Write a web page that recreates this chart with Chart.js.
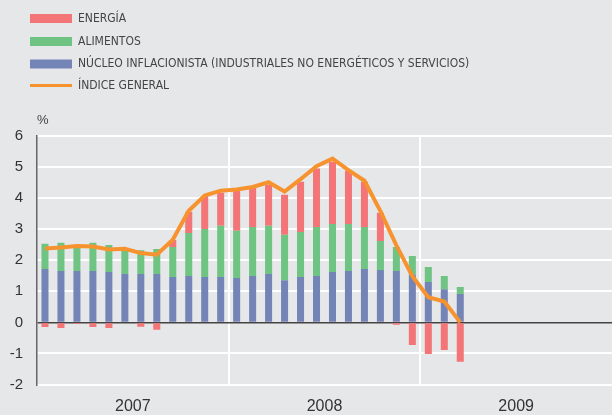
<!DOCTYPE html>
<html>
<head>
<meta charset="utf-8">
<script src="https://cdn.jsdelivr.net/npm/chart.js@4"></script>
<style>
  body { margin: 0; background: #e6e7e9; }
  #wrap { width: 612px; height: 415px; }
</style>
</head>
<body>
<div id="wrap"><canvas id="ipc" width="612" height="415"></canvas></div>
<script>
// months Jan 2007 .. Dec 2009 (data up to Mar 2009)
const years = ["2007", "2008", "2009"];
const months = [];
years.forEach(y => { for (let m = 1; m <= 12; m++) months.push(y + "-" + String(m).padStart(2, "0")); });

// contributions to the year-on-year rate, percentage points
const nucleo = [1.72, 1.65, 1.65, 1.65, 1.62, 1.56, 1.56, 1.56, 1.46, 1.49, 1.46, 1.46,
                1.43, 1.49, 1.56, 1.36, 1.46, 1.49, 1.62, 1.65, 1.72, 1.69, 1.65, 1.53,
                1.30, 1.07, 0.91];
const alimentos = [0.81, 0.91, 0.78, 0.91, 0.87, 0.80, 0.76, 0.80, 0.97, 1.39, 1.55, 1.65,
                   1.52, 1.58, 1.55, 1.46, 1.45, 1.58, 1.55, 1.52, 1.35, 0.93, 0.78, 0.61,
                   0.48, 0.42, 0.23];
const energia = [-0.15, -0.18, -0.05, -0.15, -0.18, -0.03, -0.14, -0.24, 0.22, 0.68, 1.06, 1.06,
                 1.29, 1.26, 1.32, 1.29, 1.62, 1.88, 2.00, 1.71, 1.46, 0.91, -0.08, -0.73,
                 -1.02, -0.89, -1.27];
const general = [2.38, 2.41, 2.46, 2.44, 2.35, 2.37, 2.23, 2.18, 2.66, 3.59, 4.08, 4.24,
                 4.28, 4.36, 4.51, 4.21, 4.61, 5.03, 5.27, 4.90, 4.56, 3.58, 2.48, 1.49,
                 0.81, 0.67, 0.00];

const legendPlugin = {
  id: "topLegend",
  afterDraw(chart) {
    const ctx = chart.ctx;
    const ds = chart.data.datasets;
    const order = [2, 1, 0, 3];
    const rowsY = [18.5, 41.5, 64, 85.5];
    ctx.save();
    ctx.font = "12px 'DejaVu Sans Condensed', 'Liberation Sans Narrow', sans-serif";
    ctx.textBaseline = "middle";
    order.forEach((k, r) => {
      const d = ds[k];
      const y = rowsY[r];
      if (d.type === "line") {
        ctx.fillStyle = d.borderColor;
        ctx.fillRect(30, y - 1.5, 42, 3);
      } else {
        ctx.fillStyle = d.backgroundColor;
        ctx.fillRect(30, y - 4.5, 42, 9);
      }
      ctx.fillStyle = "#444";
      ctx.fillText(d.label, 78, y);
    });
    ctx.font = "13px 'Liberation Sans', sans-serif";
    ctx.fillText("%", chart.chartArea.left, 120);
    ctx.restore();
  }
};

new Chart(document.getElementById("ipc"), {
  type: "bar",
  data: {
    labels: months,
    datasets: [
      { label: "NÚCLEO INFLACIONISTA (INDUSTRIALES NO ENERGÉTICOS Y SERVICIOS)", data: nucleo,
        backgroundColor: "#7484b6", order: 1 },
      { label: "ALIMENTOS", data: alimentos, backgroundColor: "#6fc383", order: 1 },
      { label: "ENERGÍA", data: energia, backgroundColor: "#f37577", order: 1 },
      { type: "line", label: "ÍNDICE GENERAL", data: general, borderColor: "#f7932f",
        borderWidth: 4, pointRadius: 0, tension: 0, fill: false, order: 0 }
    ]
  },
  options: {
    responsive: false,
    animation: false,
    layout: { padding: { top: 136, left: 10, right: 0, bottom: 0 } },
    plugins: { legend: { display: false }, tooltip: { enabled: false } },
    datasets: { bar: { barPercentage: 0.44, categoryPercentage: 1 } },
    scales: {
      x: {
        stacked: true,
        border: { display: false },
        afterFit: s => { s.height = 30.5; s.paddingLeft = 0; s.paddingRight = 0; },
        grid: {
          offset: true,
          drawTicks: false,
          lineWidth: 2,
          color: c => (c.index > 0 && c.index < 36 && c.index % 12 === 0) ? "#ffffff" : "rgba(0,0,0,0)"
        },
        ticks: {
          autoSkip: false,
          maxRotation: 0,
          padding: 12,
          labelOffset: -8,
          color: "#333",
          font: { family: "'Liberation Sans', sans-serif", size: 16 },
          callback: (v, i) => i % 12 === 6 ? years[Math.floor(i / 12)] : ""
        }
      },
      y: {
        stacked: true,
        min: -2,
        max: 6,
        afterFit: s => { s.width = 27; },
        border: { display: true, color: "#666", width: 1.5 },
        grid: {
          drawTicks: false,
          lineWidth: c => c.tick && c.tick.value === 0 ? 1.5 : 2,
          color: c => c.tick && c.tick.value === 0 ? "#444" : "#ffffff"
        },
        ticks: {
          stepSize: 1,
          padding: 14,
          color: "#333",
          font: { family: "'Liberation Sans', sans-serif", size: 15 }
        }
      }
    }
  },
  plugins: [legendPlugin]
});
</script>
</body>
</html>
